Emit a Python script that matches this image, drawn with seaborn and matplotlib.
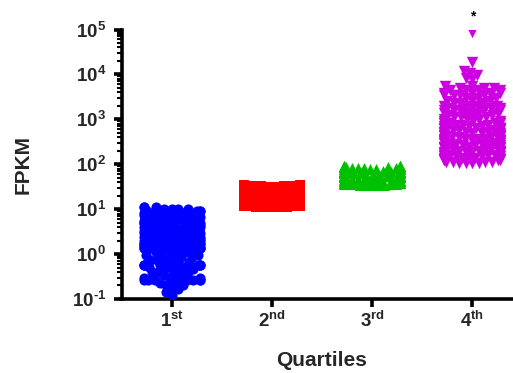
import numpy as np
import pandas as pd
import matplotlib
matplotlib.use("Agg")
import matplotlib.pyplot as plt
import seaborn as sns
from matplotlib.ticker import LogLocator, NullFormatter

# --- data: FPKM value and how many genes sit at it ---
quartiles = ["1st", "2nd", "3rd", "4th"]
tick_labels = [r"$\mathbf{1^{st}}$", r"$\mathbf{2^{nd}}$", r"$\mathbf{3^{rd}}$", r"$\mathbf{4^{th}}$"]

q1_fpkm = [0.12, 0.14, 0.17, 0.2, 0.23, 0.26, 0.3, 0.35, 0.4, 0.46, 0.52, 0.57, 0.65,
           0.75, 0.85, 0.95, 1.1, 1.25, 1.35, 1.5, 1.65, 1.8, 2.0, 2.2, 2.45, 2.7, 3.0,
           3.3, 3.7, 4.1, 4.5, 5.0, 5.5, 6.1, 6.8, 7.5, 8.3, 9.2, 10.2, 11.0]
q1_count = [1, 1, 2, 2, 2, 8, 3, 3, 3, 3, 3, 8, 3,
            3, 3, 3, 3, 3, 8, 4, 4, 4, 4, 4, 4, 4, 4,
            4, 4, 4, 4, 4, 4, 4, 4, 4, 4, 4, 4, 3]

q2_fpkm = [11, 11.8, 12.6, 13.5, 14.5, 15.5, 16.6, 17.8, 19, 20.4, 21.9, 23.4, 25,
           26.8, 28.7, 30.8, 33, 34.5]
q2_count = [5, 5, 5, 5, 5, 5, 5, 5, 5, 5, 5, 5, 5, 5, 5, 5, 5, 5]

q3_fpkm = [34, 36.5, 39, 42, 45, 48, 51.5, 55, 59, 63, 67.5, 72, 77, 82.5, 88, 93]
q3_count = [5, 5, 5, 5, 5, 5, 5, 5, 5, 5, 5, 5, 5, 5, 5, 5]

q4_fpkm = [107, 115, 123, 132, 141, 151, 162, 174, 186, 200, 214, 230, 246, 264, 283,
           303, 325, 348, 373, 400, 428, 459, 492, 527, 565, 605, 650, 700, 760, 820,
           900, 1000, 1100, 1250, 1400, 1600, 1800, 2000, 2300, 2600, 3000, 3400, 3900,
           4400, 5000, 5500, 7900, 8300, 9700, 10700, 12000, 19000, 88000]
q4_count = [4, 4, 4, 4, 4, 4, 4, 4, 4, 4, 4, 4, 4, 4, 4,
            4, 4, 4, 4, 4, 4, 4, 4, 4, 4, 4, 6, 3, 3, 6,
            3, 3, 3, 3, 4, 5, 4, 4, 3, 3, 3, 4, 4,
            4, 3, 2, 1, 1, 1, 1, 1, 1, 1]

colors = ["#0000FF", "#FF0000", "#00C000", "#CC00E0"]
markers = ["o", "s", "^", "v"]
sizes = [7.3, 7.0, 8.0, 8.2]        # drawn marker size (pt)
packing = [0.6, 0.75, 0.52, 0.55]   # swarm laid out with smaller markers, so they overlap like Prism

groups = [(q1_fpkm, q1_count), (q2_fpkm, q2_count), (q3_fpkm, q3_count), (q4_fpkm, q4_count)]

spacing = 1.43  # distance between quartile columns (swarm width is 0.8 of one unit)
positions = [i * spacing for i in range(4)]

sns.set_style("ticks")
plt.rcParams["font.family"] = ["Liberation Sans", "DejaVu Sans"]
plt.rcParams["font.weight"] = "bold"
plt.rcParams["mathtext.fontset"] = "custom"
plt.rcParams["mathtext.rm"] = "Liberation Sans:bold"
plt.rcParams["mathtext.bf"] = "Liberation Sans:bold"
plt.rcParams["mathtext.it"] = "Liberation Sans:bold"

fig = plt.figure(figsize=(5.13, 3.73), dpi=100)
ax = fig.add_axes([121.5 / 513, (373 - 299) / 373, (513 - 121.5) / 513, (299 - 29.5) / 373])
ax.set_yscale("log")

swarms = []
for pos, (vals, cnts), col, mk, sz, pk in zip(positions, groups, colors, markers, sizes, packing):
    df = pd.DataFrame({"x": pos, "fpkm": np.repeat(vals, cnts)})
    sns.swarmplot(data=df, x="x", y="fpkm", native_scale=True, log_scale=(False, True),
                  color=col, marker=mk, size=sz * pk, linewidth=0, warn_thresh=1, ax=ax)
    swarms.append((ax.collections[-1], sz))

ax.set_ylim(0.1, 1e5)
ax.set_xlim(-50 / 70, 341 / 70)
ax.set_xticks(positions)
ax.set_xticklabels(tick_labels, fontsize=13.5)

y_ticks = [0.1, 1, 10, 100, 1000, 10000, 100000]
y_tick_labels = [r"$\mathbf{10^{\text{-}1}}$", r"$\mathbf{10^{0}}$", r"$\mathbf{10^{1}}$",
                 r"$\mathbf{10^{2}}$", r"$\mathbf{10^{3}}$", r"$\mathbf{10^{4}}$", r"$\mathbf{10^{5}}$"]
ax.set_yticks(y_ticks)
ax.set_yticklabels(y_tick_labels, fontsize=13.5)
ax.yaxis.set_minor_locator(LogLocator(base=10, subs=np.arange(2, 10), numticks=20))
ax.yaxis.set_minor_formatter(NullFormatter())

for side in ["top", "right"]:
    ax.spines[side].set_visible(False)
for side in ["left", "bottom"]:
    ax.spines[side].set_linewidth(2.6)
    ax.spines[side].set_color("black")
ax.tick_params(axis="both", which="major", length=6, width=2.6, color="black")
ax.tick_params(axis="y", which="minor", length=3.5, width=1.5, color="black")
ax.tick_params(axis="y", which="major", pad=5)
ax.tick_params(axis="x", which="major", pad=2.5)

ax.set_ylabel("FPKM", fontsize=15, fontweight="bold")
ax.yaxis.set_label_coords(-0.226, 0.5)
ax.set_xlabel("Quartiles", fontsize=15, fontweight="bold")
ax.xaxis.set_label_coords(0.51, -0.192)
ax.xaxis.label.set_va("top")

ax.text(positions[3], 2.0e5, "*", ha="center", va="center", fontsize=10,
        color="black", clip_on=False)

# lay the swarms out once, then freeze them and draw the markers at full size
fig.canvas.draw()
for coll, sz in swarms:
    if "draw" in coll.__dict__:
        del coll.draw
    coll.set_sizes([sz ** 2])

fig.savefig("out.png", dpi=100)
